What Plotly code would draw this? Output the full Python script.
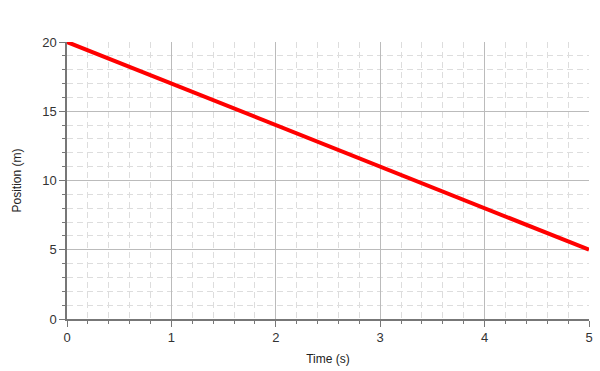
import plotly.graph_objects as go

time_s = [0, 5]
position_m = [20, 5]
x_ticks = [0, 1, 2, 3, 4, 5]
y_ticks = [0, 5, 10, 15, 20]

fig = go.Figure()
fig.add_trace(go.Scatter(x=time_s, y=position_m, mode="lines",
                         line=dict(color="#ff0000", width=4), showlegend=False))

axis_common = dict(
    showline=True, linecolor="#777777", linewidth=1.5,
    showgrid=True, gridcolor="#bbbbbb", gridwidth=1.2,
    ticks="outside", ticklen=6, tickcolor="#777777", tickwidth=1.2,
    zeroline=False,
    tickfont=dict(family="Liberation Sans, Arial", size=13, color="#333333"),
)

title_font = dict(family="Liberation Sans, Arial", size=12, color="#222222")

fig.update_xaxes(
    range=[0, 5], tickvals=x_ticks, **axis_common,
    minor=dict(dtick=0.2, showgrid=True, gridcolor="#dddddd", griddash="6px,4px",
               gridwidth=1.2, ticks="outside", ticklen=3, tickcolor="#777777"),
    title=dict(text="Time (s)", font=title_font, standoff=10),
)
fig.update_yaxes(
    range=[0, 20], tickvals=y_ticks, **axis_common,
    minor=dict(dtick=1, showgrid=True, gridcolor="#dddddd", griddash="6px,4px",
               gridwidth=1.2, ticks="outside", ticklen=3, tickcolor="#777777"),
    title=dict(text="Position (m)", font=title_font, standoff=18),
)

fig.update_layout(
    width=600, height=371,
    margin=dict(l=67, r=7, t=42, b=51),
    plot_bgcolor="white", paper_bgcolor="white",
)

fig.write_html("out.html")
